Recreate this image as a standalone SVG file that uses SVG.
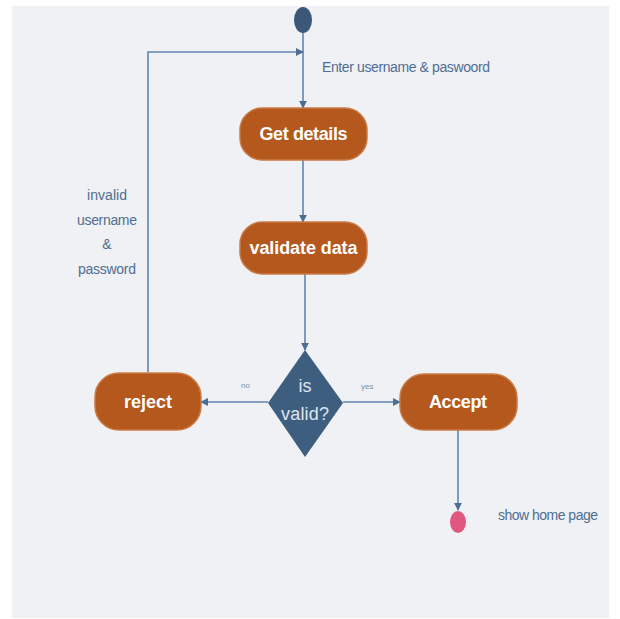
<svg xmlns="http://www.w3.org/2000/svg" width="620" height="619" viewBox="0 0 620 619">
<style>
.act{fill:#b5581d;stroke:#c97a45;stroke-width:1.5}
.at{fill:#fff;font-family:"Liberation Sans",Arial,sans-serif;font-weight:bold;font-size:18px;text-anchor:middle}
.lbl{fill:#4f6e91;font-family:"Liberation Sans",Arial,sans-serif;font-size:14px}
.small{fill:#7a8ea6;font-family:"Liberation Sans",Arial,sans-serif;font-size:8px}
.conn{stroke:#6286b0;stroke-width:1.6;fill:none}
</style>
<defs>
<marker id="arr" viewBox="0 0 10 10" refX="9" refY="5" markerWidth="5" markerHeight="5" orient="auto"><path d="M0,0 L10,5 L0,10 z" fill="#4d6d92"/></marker>
</defs>
<rect x="12" y="6" width="597" height="612" fill="#f0f1f5"/>
<g id="connectors">
<path class="conn" d="M303,32 V108" marker-end="url(#arr)"/>
<path class="conn" d="M303,160 V222" marker-end="url(#arr)"/>
<path class="conn" d="M305,274 V350" marker-end="url(#arr)"/>
<path class="conn" d="M268,402 H201" marker-end="url(#arr)"/>
<path class="conn" d="M343,402 H400" marker-end="url(#arr)"/>
<path class="conn" d="M148,372 V52 H303" marker-end="url(#arr)"/>
<path class="conn" d="M458,430 V510" marker-end="url(#arr)"/>
<text class="small" x="241" y="388">no</text>
<text class="small" x="361" y="389">yes</text>
</g>
<g id="start"><ellipse cx="303" cy="20" rx="9" ry="13" fill="#3b5878"/></g>
<text class="lbl" x="322" y="72" textLength="168">Enter username &amp; paswoord</text>
<g id="get-details"><rect class="act" x="240" y="108" width="127" height="52" rx="22"/><text class="at" x="303.5" y="140" textLength="88">Get details</text></g>
<g id="validate-data"><rect class="act" x="240" y="222" width="127" height="52" rx="22"/><text class="at" x="303.5" y="254" textLength="108">validate data</text></g>
<g id="is-valid"><polygon points="305,350 343,403 305,457 268,403" fill="#3e5e80"/><text x="305" y="392" fill="#dfe6ef" font-family="Liberation Sans,Arial,sans-serif" font-size="18" text-anchor="middle">is</text><text x="305" y="420" fill="#dfe6ef" font-family="Liberation Sans,Arial,sans-serif" font-size="18" text-anchor="middle" textLength="48">valid?</text></g>
<g id="reject"><rect class="act" x="95" y="373" width="106" height="57" rx="24"/><text class="at" x="148" y="408" textLength="48">reject</text></g>
<g id="accept"><rect class="act" x="400" y="374" width="117" height="56" rx="24"/><text class="at" x="458" y="408" textLength="58">Accept</text></g>
<g id="invalid-label"><text class="lbl" text-anchor="middle" x="107" y="200" textLength="40">invalid</text><text class="lbl" text-anchor="middle" x="107" y="225" textLength="60">username</text><text class="lbl" text-anchor="middle" x="107" y="249">&amp;</text><text class="lbl" text-anchor="middle" x="107" y="274" textLength="58">password</text></g>
<g id="end"><ellipse cx="458" cy="522" rx="8" ry="11" fill="#e05880"/></g>
<text class="lbl" x="498" y="520" textLength="100">show home page</text>
</svg>
